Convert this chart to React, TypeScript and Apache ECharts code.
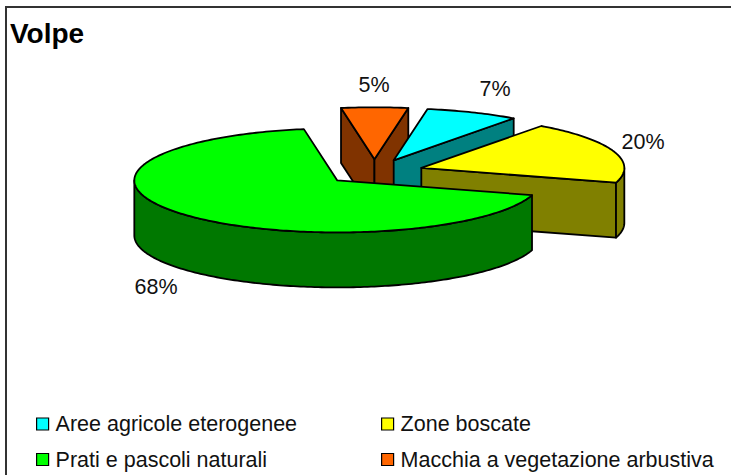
import React, { useEffect, useRef } from "react";
import * as echarts from "echarts";

const categories = [
  "Aree agricole eterogenee",
  "Zone boscate",
  "Prati e pascoli naturali",
  "Macchia a vegetazione arbustiva",
];
const values = [7.4, 19.5, 67.8, 5.3];
const topColors = ["#00FFFF", "#FFFF00", "#00FF00", "#FF6600"];
const sideColors = ["#008080", "#808000", "#007800", "#803300"];
const chartTitle = "Volpe";

const FIRST_ANGLE = 9.6;
const CX = 374.4, CY = 172, RX = 203, RY = 52, DEPTH = 55, EXPLODE = 0.244;
const drawOrder = [3, 0, 1, 2];
const labelPos = [[495, 89], [643, 142], [156, 287], [374, 85]];

const total = values.reduce((a, b) => a + b, 0);
const rad = (d: number) => (d * Math.PI) / 180;

function sliceGeom(i: number) {
  let a0 = FIRST_ANGLE;
  for (let k = 0; k < i; k++) a0 += (values[k] / total) * 360;
  const a1 = a0 + (values[i] / total) * 360;
  const mid = (a0 + a1) / 2;
  const ax = CX + EXPLODE * RX * Math.sin(rad(mid));
  const ay = CY - EXPLODE * RY * Math.cos(rad(mid));
  const pt = (a: number, dy = 0) => [ax + RX * Math.sin(rad(a)), ay - RY * Math.cos(rad(a)) + dy];
  return { a0, a1, ax, ay, pt };
}

function renderSlice(i: number) {
  const { a0, a1, ax, ay, pt } = sliceGeom(i);
  const style = { stroke: "#000", lineWidth: 1.8, lineJoin: "round" };
  const children: any[] = [];
  const side = { ...style, fill: sideColors[i] };
  const wall = (a: number) => ({
    type: "polygon",
    shape: { points: [[ax, ay], pt(a), pt(a, DEPTH), [ax, ay + DEPTH]] },
    style: side,
  });
  if (Math.sin(rad(a0)) < 0) children.push(wall(a0));
  if (Math.sin(rad(a1)) > 0) children.push(wall(a1));
  const r0 = Math.max(a0, 90), r1 = Math.min(a1, 270);
  if (r1 > r0) {
    const up: number[][] = [], down: number[][] = [];
    for (let a = r0; a < r1; a += 1) { up.push(pt(a)); down.unshift(pt(a, DEPTH)); }
    up.push(pt(r1)); down.unshift(pt(r1, DEPTH));
    children.push({ type: "polygon", shape: { points: up.concat(down) }, style: side });
  }
  const top: number[][] = [[ax, ay]];
  for (let a = a0; a < a1; a += 1) top.push(pt(a));
  top.push(pt(a1));
  children.push({ type: "polygon", shape: { points: top }, style: { ...style, fill: topColors[i] } });
  children.push({
    type: "text",
    x: labelPos[i][0], y: labelPos[i][1],
    style: {
      text: Math.round(values[i]) + "%", fill: "#111", font: "21.5px 'Liberation Sans', Arial, sans-serif",
      textAlign: "center", textVerticalAlign: "middle",
    },
  });
  return { type: "group", children };
}

const legendStyle = {
  orient: "vertical", icon: "rect", itemWidth: 12, itemHeight: 12, itemGap: 13.5,
  textStyle: { fontSize: 21.5, color: "#111", fontFamily: "'Liberation Sans', Arial, sans-serif", padding: [0, 0, 0, 2] },
  itemStyle: { borderColor: "#000", borderWidth: 1.2 },
  padding: 0, selectedMode: false,
};

export default function App() {
  const ref = useRef<HTMLDivElement>(null);
  useEffect(() => {
    document.body.style.margin = "0";
    const chart = echarts.init(ref.current!, null, { renderer: "svg" });
    chart.setOption({
      animation: false,
      backgroundColor: "#fff",
      title: {
        text: chartTitle, left: 10, top: 19, padding: 0,
        textStyle: { fontSize: 28, fontWeight: "bold", color: "#000", fontFamily: "'Liberation Sans', Arial, sans-serif" },
      },
      legend: [
        { ...legendStyle, left: 36, top: 413, data: [categories[0], categories[2]] },
        { ...legendStyle, left: 381, top: 413, data: [categories[1], categories[3]] },
      ],
      graphic: [{
        type: "polyline", silent: true, z: -1,
        shape: { points: [[6, 475], [6, 7], [731, 7]] },
        style: { stroke: "#333", lineWidth: 2, fill: "none" },
      }],
      series: drawOrder.map((i) => ({
        type: "custom",
        name: categories[i],
        coordinateSystem: "none",
        silent: true,
        itemStyle: { color: topColors[i] },
        data: [[values[i]]],
        renderItem: () => renderSlice(i),
      })),
    });
    return () => chart.dispose();
  }, []);
  return <div ref={ref} style={{ width: 731, height: 475 }} />;
}
